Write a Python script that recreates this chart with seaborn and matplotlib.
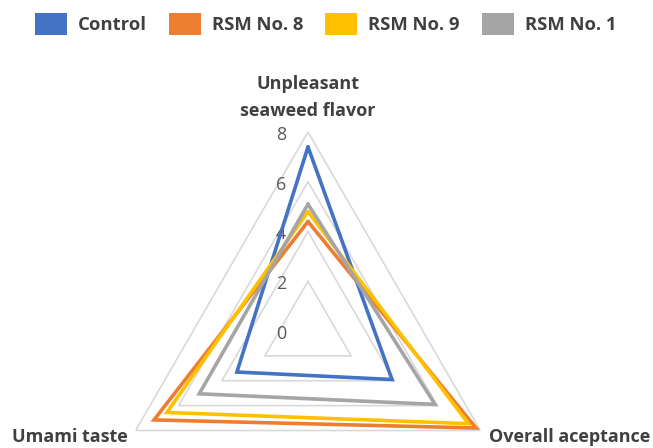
import numpy as np
import pandas as pd
import matplotlib
matplotlib.use("Agg")
import matplotlib.pyplot as plt
from matplotlib.patches import Patch
import seaborn as sns

# Sensory attributes (clockwise from the top) and panel scores per formulation
attributes = ["Unpleasant\nseaweed flavor", "Overall aceptance", "Umami taste"]
series_names = ["Control", "RSM No. 8", "RSM No. 9", "RSM No. 1"]
control = [7.4, 3.9, 3.3]
rsm_8 = [4.4, 7.8, 7.15]
rsm_9 = [4.8, 7.45, 6.55]
rsm_1 = [5.1, 5.9, 5.05]
scale_ticks = [0, 2, 4, 6, 8]

colors = ["#4472C4", "#ED7D31", "#FFC000", "#A5A5A5"]
grid_color = "#D9D9D9"
label_color = "#404040"
tick_color = "#595959"

sns.set_style("white")
plt.rcParams["font.family"] = ["Open Sans", "DejaVu Sans"]

W, H = 653, 448
fig = plt.figure(figsize=(W / 100, H / 100), dpi=100)

# polar axes: centre at (308, 331) px, radius 199 px for the value 8
cx, cy, rad = 308, 331, 199
ax = fig.add_axes([(cx - rad) / W, (H - cy - rad) / H, 2 * rad / W, 2 * rad / H],
                  projection="polar")
ax.set_theta_zero_location("N")
ax.set_theta_direction(-1)
ax.set_facecolor("none")
ax.grid(False)
ax.spines["polar"].set_visible(False)

n = len(attributes)
theta = np.linspace(0, 2 * np.pi, n, endpoint=False)
theta_closed = np.append(theta, 2 * np.pi)

# triangular gridlines
for lev in scale_ticks[1:]:
    ax.plot(theta_closed, [lev] * (n + 1), color=grid_color, lw=1.2, zorder=1)

# scale labels along the upper axis
for lev in scale_ticks:
    ax.annotate(str(lev), xy=(0, lev), xytext=(-19.5, -2), textcoords="offset points",
                ha="center", va="center", fontsize=13, color=tick_color, zorder=2)

# long-form table, each polygon closed by repeating its first score
rows = []
for name, vals in zip(series_names, [control, rsm_8, rsm_9, rsm_1]):
    closed = list(vals) + [vals[0]]
    for t, v in zip(theta_closed, closed):
        rows.append({"theta": t, "score": v, "sample": name})
df = pd.DataFrame(rows)

sns.lineplot(data=df, x="theta", y="score", hue="sample", hue_order=series_names,
             palette=colors, sort=False, estimator=None, legend=False,
             linewidth=2.6, solid_joinstyle="miter", ax=ax, zorder=3)
ax.set_xlabel("")
ax.set_ylabel("")
ax.set_ylim(0, 8)
ax.set_xticks([])
ax.set_yticks([])

# attribute labels
fig.text(cx / W, 1 - 97.5 / H, attributes[0], ha="center", va="center", fontsize=13,
         fontweight="bold", color=label_color, linespacing=1.58)
fig.text(570 / W, 1 - 437 / H, attributes[1], ha="center", va="center", fontsize=13,
         fontweight="bold", color=label_color)
fig.text(70 / W, 1 - 437 / H, attributes[2], ha="center", va="center", fontsize=13,
         fontweight="bold", color=label_color)

handles = [Patch(facecolor=c, edgecolor="none", label=s) for c, s in zip(colors, series_names)]
leg = fig.legend(handles=handles, ncol=4, loc="center left",
                 bbox_to_anchor=(35 / W, 1 - 24 / H), frameon=False,
                 borderpad=0, borderaxespad=0, handlelength=1.72, handleheight=1.38,
                 handletextpad=0.6, columnspacing=1.2,
                 prop={"size": 13.3, "weight": "bold"})
for t in leg.get_texts():
    t.set_color(label_color)

fig.savefig("out.png", dpi=100)
